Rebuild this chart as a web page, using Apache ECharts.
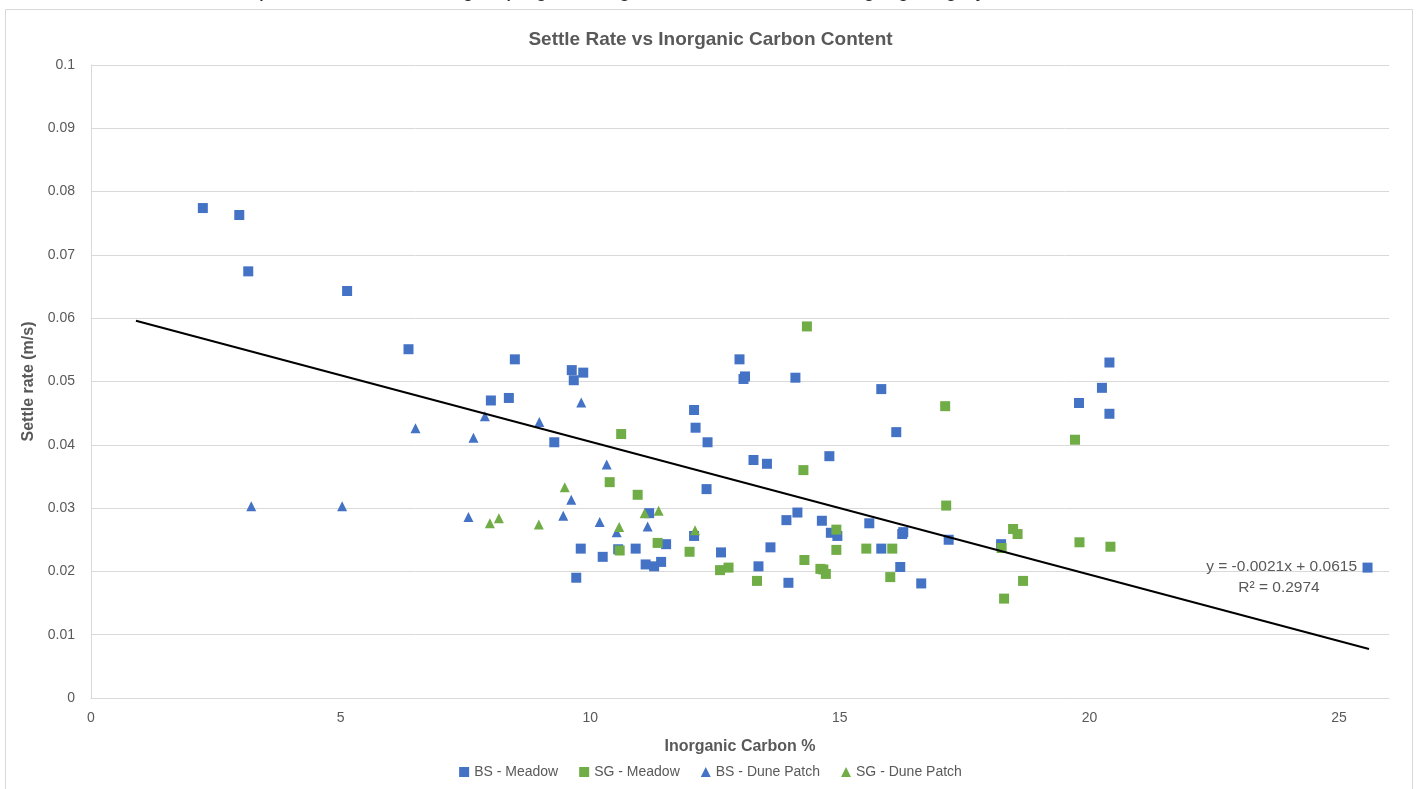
<!DOCTYPE html>
<html>
<head>
<meta charset="utf-8">
<title>Settle Rate vs Inorganic Carbon Content</title>
<script src="https://cdn.jsdelivr.net/npm/echarts@6/dist/echarts.min.js"></script>
<style>
  html, body { margin: 0; padding: 0; background: #fff; }
  #chart { width: 1421px; height: 789px; }
</style>
</head>
<body>
<div id="chart"></div>
<script>
// values: [inorganic carbon %, settle rate m/s]
const bsMeadow = [
  [2.24, 0.0774], [2.97, 0.0763], [3.15, 0.0674], [5.13, 0.0643], [6.36, 0.0551],
  [8.49, 0.0535], [8.01, 0.0470], [8.37, 0.0474], [9.63, 0.0518], [9.67, 0.0502],
  [9.86, 0.0514], [9.28, 0.0404], [9.81, 0.0236], [9.72, 0.0190], [10.25, 0.0223],
  [10.56, 0.0235], [10.91, 0.0236], [11.11, 0.0211], [11.28, 0.0208], [11.42, 0.0215],
  [11.52, 0.0243], [11.18, 0.0292], [12.08, 0.0455], [12.11, 0.0427], [12.35, 0.0404],
  [12.33, 0.0330], [12.08, 0.0256], [12.62, 0.0230], [12.99, 0.0535], [13.10, 0.0508],
  [13.07, 0.0504], [14.11, 0.0506], [15.83, 0.0488], [16.13, 0.0420], [13.27, 0.0376],
  [13.54, 0.0370], [14.79, 0.0382], [14.15, 0.0293], [13.93, 0.0281], [14.64, 0.0280],
  [14.82, 0.0261], [14.95, 0.0256], [15.59, 0.0276], [16.25, 0.0259], [16.27, 0.0262],
  [17.18, 0.0250], [18.23, 0.0243], [13.37, 0.0208], [13.61, 0.0238], [13.97, 0.0182],
  [15.83, 0.0236], [16.21, 0.0207], [16.63, 0.0181], [20.40, 0.0530], [20.25, 0.0490],
  [19.79, 0.0466], [20.40, 0.0449], [25.57, 0.0206]
];
const sgMeadow = [
  [14.34, 0.0587], [17.11, 0.0461], [14.27, 0.0360], [10.62, 0.0417], [10.39, 0.0341],
  [10.95, 0.0321], [10.59, 0.0233], [11.35, 0.0245], [11.99, 0.0231], [12.60, 0.0202],
  [12.77, 0.0206], [13.34, 0.0185], [14.29, 0.0218], [14.61, 0.0204], [14.67, 0.0203],
  [14.72, 0.0196], [14.93, 0.0266], [14.93, 0.0234], [15.53, 0.0236], [16.05, 0.0236],
  [16.01, 0.0191], [17.13, 0.0304], [18.24, 0.0237], [18.47, 0.0267], [18.56, 0.0259],
  [18.67, 0.0185], [18.29, 0.0157], [19.71, 0.0408], [19.80, 0.0246], [20.42, 0.0239]
];
const bsDunePatch = [
  [3.21, 0.0303], [5.03, 0.0303], [6.50, 0.0426], [7.66, 0.0411], [7.89, 0.0445],
  [8.98, 0.0436], [7.56, 0.0286], [9.46, 0.0288], [9.62, 0.0313], [9.82, 0.0467],
  [10.33, 0.0369], [10.19, 0.0278], [10.53, 0.0262], [11.15, 0.0271]
];
const sgDunePatch = [
  [7.99, 0.0276], [8.17, 0.0284], [8.97, 0.0274], [9.49, 0.0333], [10.58, 0.0270],
  [11.09, 0.0292], [11.37, 0.0296], [12.10, 0.0265]
];

// linear trendline shown on the chart
const trendSlope = -0.0021;
const trendIntercept = 0.0615;
const trendRange = [0.9, 25.6];
const trendLabel = ['y = -0.0021x + 0.0615', 'R² = 0.2974'];

const seriesNames = ['BS - Meadow', 'SG - Meadow', 'BS - Dune Patch', 'SG - Dune Patch'];
const blue = '#4472C4';
const green = '#70AD47';
const grey = '#595959';
const font = '"Liberation Sans", Arial, sans-serif';

const trendData = trendRange.map(x => [x, trendSlope * x + trendIntercept]);

let chart = echarts.init(document.getElementById('chart'));

function scatter(name, data, color, symbol, size) {
    return {
        name: name,
        type: 'scatter',
        data: data,
        symbol: symbol,
        symbolSize: size,
        itemStyle: { color: color, opacity: 1 },
        z: 3
    };
}

let option = {
    animation: false,
    backgroundColor: '#fff',
    textStyle: { fontFamily: font },
    title: {
        text: 'Settle Rate vs Inorganic Carbon Content',
        left: 'center',
        top: 25,
        textStyle: { fontSize: 19, fontWeight: 'bold', color: grey, fontFamily: font }
    },
    grid: { left: 91, right: 32, top: 65, bottom: 91 },
    xAxis: {
        type: 'value',
        min: 0,
        max: 26,
        interval: 5,
        name: 'Inorganic Carbon %',
        nameLocation: 'middle',
        nameGap: 41,
        nameTextStyle: { fontSize: 16, fontWeight: 'bold', color: grey, fontFamily: font },
        axisLine: { show: true, lineStyle: { color: '#d9d9d9' } },
        axisTick: { show: false },
        splitLine: { show: false },
        axisLabel: { color: grey, fontSize: 14, margin: 13, showMaxLabel: false }
    },
    yAxis: {
        type: 'value',
        min: 0,
        max: 0.1,
        interval: 0.01,
        name: 'Settle rate (m/s)',
        nameLocation: 'middle',
        nameGap: 52,
        nameTextStyle: { fontSize: 16, fontWeight: 'bold', color: grey, fontFamily: font },
        axisLine: { show: true, lineStyle: { color: '#d9d9d9' } },
        axisTick: { show: false },
        splitLine: { show: true, lineStyle: { color: '#d9d9d9', width: 1 } },
        axisLabel: { color: grey, fontSize: 14, margin: 16 }
    },
    legend: {
        data: seriesNames,
        bottom: 5,
        left: 'center',
        itemWidth: 10,
        itemHeight: 10,
        itemGap: 21,
        textStyle: { color: grey, fontSize: 14, fontFamily: font }
    },
    series: [
        scatter(seriesNames[0], bsMeadow, blue, 'rect', 10),
        scatter(seriesNames[1], sgMeadow, green, 'rect', 10),
        scatter(seriesNames[2], bsDunePatch, blue, 'triangle', 10),
        scatter(seriesNames[3], sgDunePatch, green, 'triangle', 10),
        {
            name: 'Linear trend',
            type: 'line',
            data: trendData,
            symbol: 'none',
            silent: true,
            lineStyle: { color: '#000', width: 2 },
            z: 4
        }
    ],
    graphic: [
        {
            type: 'rect',
            shape: { x: 5.5, y: 9.5, width: 1407, height: 800 },
            style: { fill: 'none', stroke: '#d9d9d9', lineWidth: 1 },
            silent: true
        },
        {
            type: 'text',
            x: 700,
            y: 1,
            style: {
                text: 'represented - note the grouping of designated sediment when highlighting by the color scheme',
                fill: '#222',
                font: '22px ' + font,
                align: 'center',
                verticalAlign: 'bottom'
            },
            silent: true
        },
        {
            type: 'text',
            x: 1357,
            y: 567,
            style: {
                text: trendLabel[0],
                fill: grey,
                font: '15.5px ' + font,
                align: 'right',
                verticalAlign: 'middle'
            },
            z: 10
        },
        {
            type: 'text',
            x: 1279,
            y: 588,
            style: {
                text: trendLabel[1],
                fill: grey,
                font: '15.5px ' + font,
                align: 'center',
                verticalAlign: 'middle'
            },
            z: 10
        }
    ]
};

option && chart.setOption(option);
</script>
</body>
</html>
